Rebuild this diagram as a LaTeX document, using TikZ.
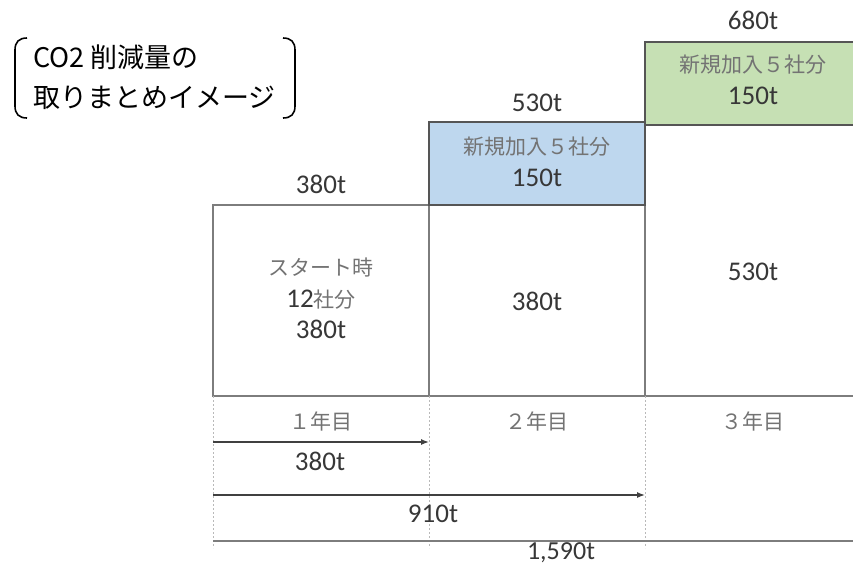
\documentclass[tikz,border=0pt]{standalone}
\usepackage{fontspec}
\setmainfont{Carlito}
\newfontfamily\jpfont{Noto Sans CJK JP}
\usetikzlibrary{arrows.meta}
\definecolor{boxline}{RGB}{125,125,125}
\definecolor{darkline}{RGB}{85,85,85}
\definecolor{numtext}{RGB}{55,55,55}
\definecolor{jptext}{RGB}{115,115,115}
\definecolor{newblue}{RGB}{190,215,238}
\definecolor{newgreen}{RGB}{198,224,180}
\definecolor{dotline}{RGB}{185,185,185}

\begin{document}
\begin{tikzpicture}[x=1pt, y=-1pt,
    num/.style={font=\fontsize{27}{32}\selectfont, text=numtext, inner sep=0pt},
    jp/.style={font=\jpfont\fontsize{21}{25}\selectfont, text=jptext, inner sep=0pt},
    ttl/.style={font=\jpfont\fontsize{27}{32}\selectfont, text=black, inner sep=0pt, anchor=west},
    frame/.style={draw=boxline, line width=1.5pt},
    newbox/.style={draw=darkline, line width=1.5pt},
    divider/.style={draw=dotline, line width=1pt, dash pattern=on 2pt off 2pt},
    total/.style={draw=black!75, line width=1.3pt, -{Latex[length=8pt,width=6pt]}}]
    \useasboundingbox (0,0) rectangle (853,566);

    % title with brackets
    \node[ttl] (t1) at (33,57) {CO2 削減量の};
    \node[ttl] (t2) at (33,98) {取りまとめイメージ};
    \draw[line width=1.6pt] (27,38) .. controls (19,38) and (15,42) .. (15,50) -- (15,106) .. controls (15,114) and (19,118) .. (27,118);
    \draw[line width=1.6pt] (283,38) .. controls (291,38) and (295,42) .. (295,50) -- (295,106) .. controls (295,114) and (291,118) .. (283,118);

    % columns
    \fill[newblue] (429,122) rectangle (645,205);
    \fill[newgreen] (645,42) rectangle (861,125);
    \draw[frame] (213,205) rectangle (429,396);
    \draw[frame] (213,396) -- (861,396);
    \draw[frame] (645,125) -- (645,396);
    \draw[newbox] (429,122) rectangle (645,205);
    \draw[newbox] (645,42) rectangle (861,125);

    % year dividers
    \coordinate (d0) at (213,396);
    \coordinate (d1) at (429,396);
    \coordinate (d2) at (645,396);
    \coordinate (e0) at (213,548);
    \coordinate (e1) at (429,548);
    \coordinate (e2) at (645,548);
    \path (d0) edge[divider] (e0);
    \path (d1) edge[divider] (e1);
    \path (d2) edge[divider] (e2);

    % labels above
    \node[num] (top1) at (321,184) {380t};
    \node[num] (top2) at (537,103) {530t};
    \node[num] (top3) at (753,20) {680t};

    % box texts
    \node[jp] (start) at (321,267) {スタート時};
    \node[num] (firms) at (321,300) {12{\jpfont\fontsize{21}{25}\selectfont\color{jptext}社分}};
    \node[num] (base1) at (321,329) {380t};
    \node[jp] (new2) at (537,147) {新規加入５社分};
    \node[num] (add2) at (537,178) {150t};
    \node[num] (base2) at (537,301) {380t};
    \node[jp] (new3) at (753,65) {新規加入５社分};
    \node[num] (add3) at (753,96) {150t};
    \node[num] (base3) at (753,272) {530t};

    % years
    \node[jp] (y1) at (321,421) {１年目};
    \node[jp] (y2) at (537,421) {２年目};
    \node[jp] (y3) at (753,421) {３年目};

    % running totals
    \coordinate (s1) at (213,442);
    \coordinate (f1) at (429,442);
    \coordinate (s2) at (213,495);
    \coordinate (f2) at (645,495);
    \coordinate (s3) at (213,541);
    \coordinate (f3) at (861,541);
    \path (s1) edge[total] (f1);
    \path (s2) edge[total] (f2);
    \path (s3) edge[total, draw=boxline, line width=2pt] (f3);
    \node[num] (sum1) at (320,461) {380t};
    \node[num] (sum2) at (433,514) {910t};
    \node[num, font=\fontsize{26}{30}\selectfont] (sum3) at (561,553) {1,590t};
\end{tikzpicture}
\end{document}
